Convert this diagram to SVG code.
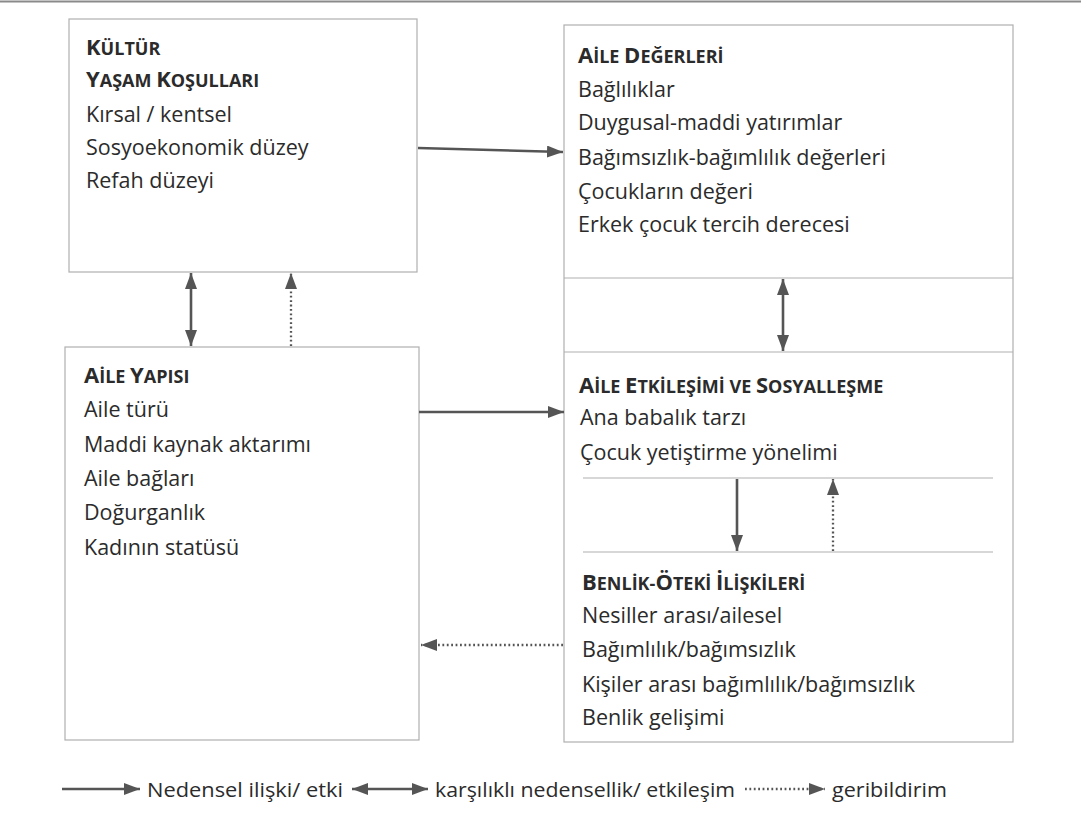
<svg xmlns="http://www.w3.org/2000/svg" width="1081" height="829" viewBox="0 0 1081 829">
<style>
  .box { fill: #ffffff; stroke: #b0b0b0; stroke-width: 1.2; }
  .sep { stroke: #b0b0b0; stroke-width: 1.2; fill: none; }
  .t { font-family: "Open Sans", "DejaVu Sans", sans-serif; font-size: 21.5px; fill: #2b2b2b; }
  .h { font-family: "Open Sans", "DejaVu Sans", sans-serif; font-size: 18px; font-weight: 700; fill: #2b2b2b; }
  .h .c { font-size: 22px; }
  .lg { font-family: "Open Sans", "DejaVu Sans", sans-serif; font-size: 20px; fill: #2b2b2b; }
  .solid { stroke: #555555; stroke-width: 2.6; fill: none; }
  .dot { stroke: #555555; stroke-width: 2.3; fill: none; stroke-dasharray: 1.8 2.6; }
</style>
<defs>
  <marker id="ah" viewBox="0 0 16 12" refX="16" refY="6" markerWidth="16" markerHeight="12" markerUnits="userSpaceOnUse" orient="auto-start-reverse">
    <path d="M0,0 L16,6 L0,12 Z" fill="#555555"/>
  </marker>
</defs>
<rect x="0" y="0" width="1081" height="829" fill="#ffffff"/>
<line x1="0" y1="1.5" x2="1081" y2="1.5" stroke="#8a8a8a" stroke-width="2"/>

<g id="kultur">
  <rect class="box" x="69" y="19" width="348" height="253"/>
  <text class="h" x="86" y="55"><tspan class="c">K</tspan>ÜLTÜR</text>
  <text class="h" x="86" y="87"><tspan class="c">Y</tspan>AŞAM <tspan class="c">K</tspan>OŞULLARI</text>
  <text class="t" x="86" y="122">Kırsal / kentsel</text>
  <text class="t" x="86" y="155">Sosyoekonomik düzey</text>
  <text class="t" x="86" y="188">Refah düzeyi</text>
</g>

<g id="aile-yapisi">
  <rect class="box" x="65" y="347" width="354" height="393"/>
  <text class="h" x="84" y="383"><tspan class="c">A</tspan>İLE <tspan class="c">Y</tspan>APISI</text>
  <text class="t" x="84" y="417">Aile türü</text>
  <text class="t" x="84" y="452">Maddi kaynak aktarımı</text>
  <text class="t" x="84" y="486">Aile bağları</text>
  <text class="t" x="84" y="520">Doğurganlık</text>
  <text class="t" x="84" y="555">Kadının statüsü</text>
</g>

<g id="sag-cerceve">
  <rect class="box" x="564" y="25" width="449" height="717"/>
  <line class="sep" x1="564" y1="278" x2="1013" y2="278"/>
  <line class="sep" x1="564" y1="352" x2="1013" y2="352"/>
  <line class="sep" x1="583" y1="478" x2="993" y2="478"/>
  <line class="sep" x1="583" y1="552" x2="993" y2="552"/>
</g>

<g id="aile-degerleri">
  <text class="h" x="578" y="63"><tspan class="c">A</tspan>İLE <tspan class="c">D</tspan>EĞERLERİ</text>
  <text class="t" x="578" y="97">Bağlılıklar</text>
  <text class="t" x="578" y="130">Duygusal-maddi yatırımlar</text>
  <text class="t" x="578" y="165">Bağımsızlık-bağımlılık değerleri</text>
  <text class="t" x="578" y="199">Çocukların değeri</text>
  <text class="t" x="578" y="232">Erkek çocuk tercih derecesi</text>
</g>

<g id="aile-etkilesimi">
  <text class="h" x="579" y="393"><tspan class="c">A</tspan>İLE <tspan class="c">E</tspan>TKİLEŞİMİ VE <tspan class="c">S</tspan>OSYALLEŞME</text>
  <text class="t" x="580" y="425">Ana babalık tarzı</text>
  <text class="t" x="580" y="460">Çocuk yetiştirme yönelimi</text>
</g>

<g id="benlik-oteki">
  <text class="h" x="582" y="590"><tspan class="c">B</tspan>ENLİK-<tspan class="c">Ö</tspan>TEKİ <tspan class="c">İ</tspan>LİŞKİLERİ</text>
  <text class="t" x="582" y="623">Nesiller arası/ailesel</text>
  <text class="t" x="582" y="657">Bağımlılık/bağımsızlık</text>
  <text class="t" x="582" y="692">Kişiler arası bağımlılık/bağımsızlık</text>
  <text class="t" x="582" y="725">Benlik gelişimi</text>
</g>

<g id="connectors">
  <line class="solid" x1="418" y1="148" x2="563" y2="152" marker-end="url(#ah)"/>
  <line class="solid" x1="419" y1="412" x2="564" y2="412" marker-end="url(#ah)"/>
  <line class="dot" x1="563" y1="645" x2="421" y2="645" marker-end="url(#ah)"/>
  <line class="solid" x1="191" y1="273" x2="191" y2="346" marker-start="url(#ah)" marker-end="url(#ah)"/>
  <line class="dot" x1="291" y1="346" x2="291" y2="273" marker-end="url(#ah)"/>
  <line class="solid" x1="783" y1="279" x2="783" y2="351" marker-start="url(#ah)" marker-end="url(#ah)"/>
  <line class="solid" x1="737" y1="479" x2="737" y2="551" marker-end="url(#ah)"/>
  <line class="dot" x1="833" y1="551" x2="833" y2="479" marker-end="url(#ah)"/>
</g>

<g id="legend">
  <line class="solid" x1="62" y1="789" x2="140" y2="789" marker-end="url(#ah)"/>
  <text class="lg" x="147" y="797" textLength="196" lengthAdjust="spacingAndGlyphs">Nedensel ilişki/ etki</text>
  <line class="solid" x1="352" y1="789" x2="428" y2="789" marker-start="url(#ah)" marker-end="url(#ah)"/>
  <text class="lg" x="435" y="797" textLength="300" lengthAdjust="spacingAndGlyphs">karşılıklı nedensellik/ etkileşim</text>
  <line class="dot" x1="745" y1="789" x2="825" y2="789" marker-end="url(#ah)"/>
  <text class="lg" x="832" y="797" textLength="115" lengthAdjust="spacingAndGlyphs">geribildirim</text>
</g>
</svg>
